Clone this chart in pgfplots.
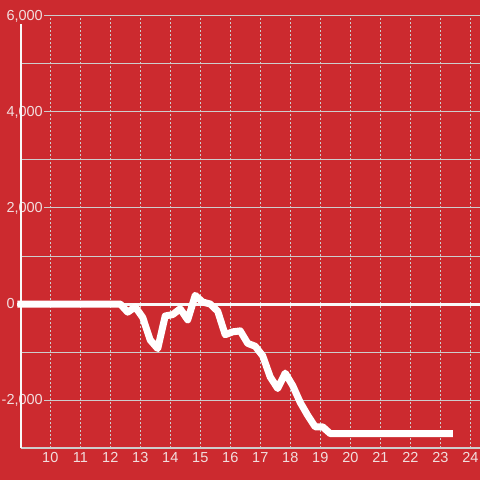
\documentclass[border=0pt]{standalone}
\usepackage{fontspec}
\setmainfont{Liberation Sans}
\usepackage{pgfplots}
\pgfplotsset{compat=1.18}
\definecolor{bgred}{RGB}{204,42,47}
\definecolor{txt}{RGB}{242,222,222}
\definecolor{gridc}{RGB}{205,205,205}
\begin{document}
\begin{tikzpicture}
\fill[bgred] (-21bp,-32bp) rectangle (459bp,448bp);
\begin{axis}[
  at={(0,0)}, anchor=south west,
  scale only axis, width=459bp, height=432bp,
  xmin=9.023, xmax=24.323, ymin=-3000, ymax=6000,
  clip=false,
  axis line style={draw=none},
  major tick length=0pt, minor tick length=0pt,
  xtick={10,11,...,24},
  xticklabels={10,11,12,13,14,15,16,17,18,19,20,21,22,23,24},
  ytick={-2000,0,2000,4000,6000},
  yticklabels={{-2,000},{},{2,000},{4,000},{6,000}},
  minor ytick={-1000,1000,3000,5000},
  xmajorgrids, ymajorgrids, yminorgrids,
  x grid style={draw=gridc, line width=1bp, dash pattern=on 2bp off 2bp},
  y grid style={draw=gridc, line width=1bp},
  minor y grid style={draw=gridc, line width=1bp},
  tick label style={text=txt, font=\fontsize{14.5bp}{16bp}\selectfont},
  yticklabel style={anchor=east, xshift=23bp, fill=bgred, inner sep=1bp},
  xticklabel style={inner sep=4bp},
]
\draw[gridc, line width=1.2bp] (axis cs:9.023,-3000) -- (axis cs:24.323,-3000);
\draw[white!95!gray, line width=3bp] (axis cs:8.9,0) -- (axis cs:24.323,0);
\draw[white!95!gray, line width=2.5bp] (axis cs:9.023,-3000) -- (axis cs:9.023,5833);
\node[anchor=east, text=txt, inner sep=0pt, font=\fontsize{14.5bp}{16bp}\selectfont] at (axis cs:9.023,0) [xshift=-6bp] {0};
\addplot[white, line width=7bp, line join=round, line cap=butt, mark=none] coordinates {
(8.9,0) (12.33,0) (12.58,-170) (12.83,-60) (13.08,-280) (13.33,-750) (13.58,-930)
(13.83,-250) (14.08,-220) (14.33,-100) (14.58,-330) (14.83,180) (15.08,40) (15.33,0)
(15.58,-150) (15.83,-640) (16.08,-580) (16.33,-560) (16.58,-820) (16.83,-880)
(17.08,-1080) (17.33,-1520) (17.58,-1760) (17.83,-1440) (18.08,-1700) (18.33,-2050)
(18.58,-2320) (18.83,-2560) (19.08,-2560) (19.33,-2700) (23.42,-2700)
};
\end{axis}
\pgfresetboundingbox
\path (-21bp,-32bp) rectangle (459bp,448bp);
\end{tikzpicture}
\end{document}
